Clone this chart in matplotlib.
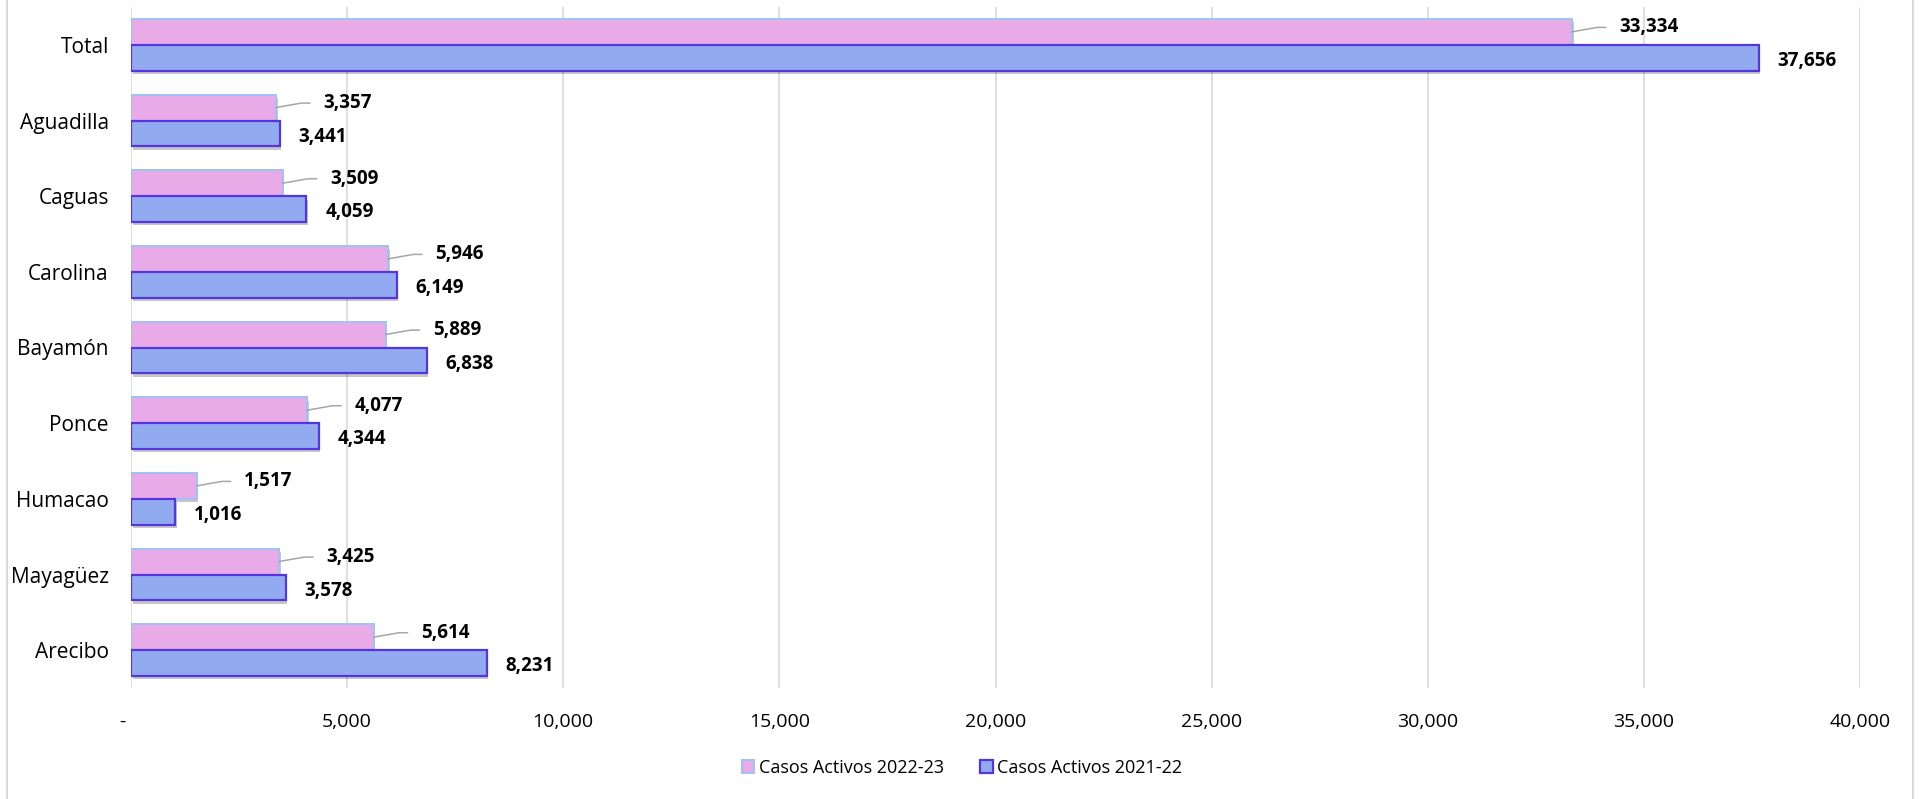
import matplotlib
matplotlib.use("Agg")
import matplotlib.pyplot as plt
import matplotlib.patheffects as pe
from matplotlib.patches import Rectangle
from matplotlib.ticker import FuncFormatter, MultipleLocator
import numpy as np

# datos
regiones = ["Total", "Aguadilla", "Caguas", "Carolina", "Bayamón",
            "Ponce", "Humacao", "Mayagüez", "Arecibo"]
casos_2022_23 = [33334, 3357, 3509, 5946, 5889, 4077, 1517, 3425, 5614]
casos_2021_22 = [37656, 3441, 4059, 6149, 6838, 4344, 1016, 3578, 8231]
series_names = ["Casos Activos 2022-23", "Casos Activos 2021-22"]

plt.rcParams['font.family'] = ['Open Sans', 'DejaVu Sans']

fig = plt.figure(figsize=(19.21, 7.99), dpi=100)
ax = fig.add_axes([131 / 1921, 1 - 688 / 799, (1860 - 131) / 1921, (688 - 7) / 799])

pos = np.arange(len(regiones))
h = 0.343
shadow = [pe.SimplePatchShadow(offset=(1.2, -2.4), shadow_rgbFace='black', alpha=0.22), pe.Normal()]

b1 = ax.barh(pos - h / 2, casos_2022_23, height=h, color='#E9ABE8', edgecolor='#9DC3F2',
             linewidth=1.4, label=series_names[0], zorder=3)
b2 = ax.barh(pos + h / 2, casos_2021_22, height=h, color='#92AAF0', edgecolor='#5535DC',
             linewidth=1.6, label=series_names[1], zorder=3)
for bar in list(b1) + list(b2):
    bar.set_path_effects(shadow)

# etiquetas de datos
for y, v in zip(pos - h / 2, casos_2022_23):
    ax.annotate(f"{v:,}", xy=(v, y), xytext=(34, 3.2), textcoords='offset points',
                ha='left', va='center', fontsize=13.5, fontweight='bold', color='black',
                arrowprops=dict(arrowstyle='-', color='#A6A6A6', lw=1.1, patchA=None,
                                shrinkA=9.5, shrinkB=0, relpos=(0, 0.5),
                                connectionstyle='angle,angleA=0,angleB=10,rad=0'),
                zorder=5)
for y, v in zip(pos + h / 2, casos_2021_22):
    ax.annotate(f"{v:,}", xy=(v, y), xytext=(13.5, -2.3), textcoords='offset points',
                ha='left', va='center', fontsize=13.5, fontweight='bold', color='black', zorder=5)

ax.set_ylim(len(regiones) - 0.5, -0.5)
ax.set_xlim(0, 40000)
ax.xaxis.set_major_locator(MultipleLocator(5000))
ax.xaxis.set_major_formatter(FuncFormatter(lambda v, p: '-   ' if v == 0 else f"{v:,.0f}"))
ax.set_yticks(pos)
ax.set_yticklabels(regiones)
ax.tick_params(axis='y', length=0, pad=16, labelsize=15)
ax.tick_params(axis='x', length=0, pad=18, labelsize=14)
ax.grid(axis='x', color='#D9D9D9', lw=1.2, zorder=0)
for s in ax.spines.values():
    s.set_visible(False)

handles = [Rectangle((0, 0), 1, 1, facecolor='#E9ABE8', edgecolor='#9DC3F2', lw=1.4),
           Rectangle((0, 0), 1, 1, facecolor='#92AAF0', edgecolor='#5535DC', lw=1.6)]
fig.legend(handles, series_names, loc='center', bbox_to_anchor=(962 / 1921, 1 - 768 / 799),
           ncol=2, frameon=False, fontsize=13, handlelength=0.7, handleheight=0.7,
           handletextpad=0.25, columnspacing=2.0)

# borde del gráfico
fig.add_artist(Rectangle((7 / 1921, -0.05), (1913 - 7) / 1921, 1.1, transform=fig.transFigure,
                         facecolor='none', edgecolor='#D9D9D9', lw=1.5))

fig.savefig("out.png", dpi=100)
